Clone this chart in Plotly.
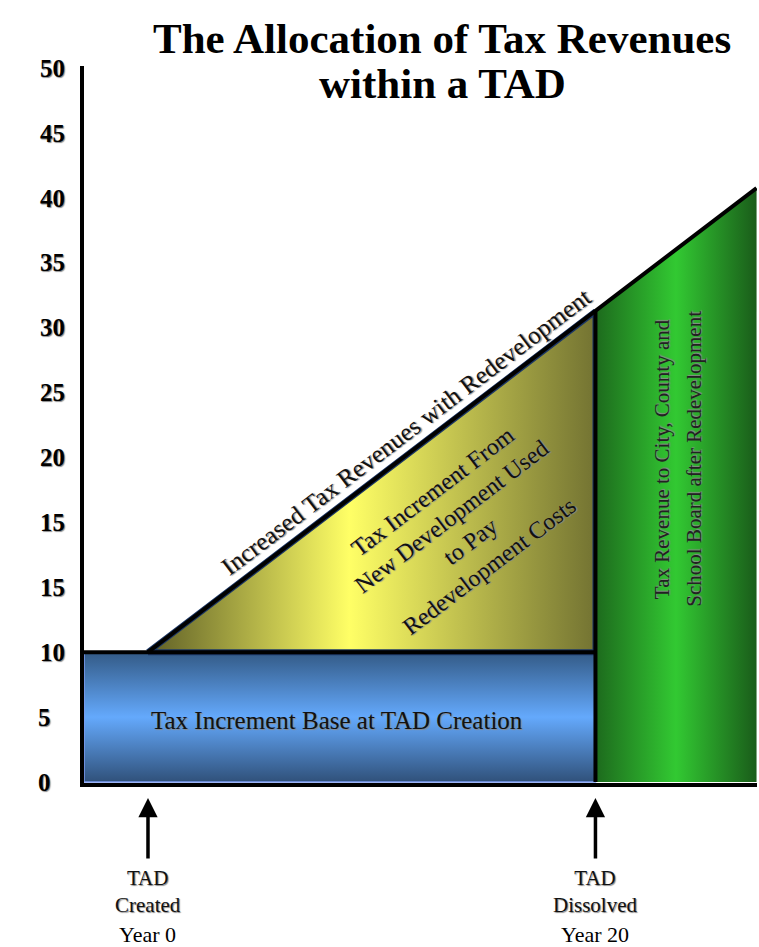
import plotly.graph_objects as go

# ---------------- data ----------------
y_tick_labels = ["0", "5", "10", "15", "15", "20", "25", "30", "35", "40", "45", "50"]
years = [0, 20, 27.2]              # TAD created, TAD dissolved, right edge of chart
revenue_level = [2, 7.25, 9.15]    # tax revenues with redevelopment (value-axis position)
base_level = 2                     # tax increment base at TAD creation
axis_start_year = -2.86
axis_end_year = 27.22
milestone_years = [0, 20]
milestone_names = ["TAD<br>Created", "TAD<br>Dissolved"]
milestone_year_labels = ["Year 0", "Year 20"]

SERIF = "Liberation Serif, Times New Roman, serif"
SHADOW = "1px 1px 1px #8a8a8a"

fig = go.Figure()

# Base (blue box)
fig.add_trace(go.Scatter(
    x=[axis_start_year, years[1], years[1], axis_start_year, axis_start_year],
    y=[0, 0, base_level, base_level, 0],
    mode="lines", fill="toself",
    fillgradient=dict(type="vertical",
                      colorscale=[[0, "#30517a"], [0.5, "#64a9fc"], [1, "#335a86"]]),
    line=dict(color="#7c9cf2", width=1.5),
    hoverinfo="skip", showlegend=False))

# Tax increment triangle (yellow)
fig.add_trace(go.Scatter(
    x=[years[0], years[1], years[1], years[0]],
    y=[base_level, revenue_level[1], base_level, base_level],
    mode="lines", fill="toself",
    fillgradient=dict(type="horizontal",
                      colorscale=[[0, "#5e5e26"], [0.45, "#ffff66"], [1, "#737332"]]),
    line=dict(color="#1c3766", width=6),
    hoverinfo="skip", showlegend=False))

# After dissolution (green)
fig.add_trace(go.Scatter(
    x=[years[1], years[1], years[2], years[2], years[1]],
    y=[0, revenue_level[1], revenue_level[2], 0, 0],
    mode="lines", fill="toself",
    fillgradient=dict(type="horizontal",
                      colorscale=[[0, "#1d6a1d"], [0.5, "#32c932"], [1, "#1a5c1a"]]),
    line=dict(color="rgba(0,0,0,0)", width=0),
    hoverinfo="skip", showlegend=False))

# Black outline lines
fig.add_trace(go.Scatter(
    x=[axis_start_year, years[1], None, years[1], years[1], None] + years,
    y=[base_level, base_level, None, 0, revenue_level[1], None] + revenue_level,
    mode="lines", line=dict(color="black", width=4),
    hoverinfo="skip", showlegend=False))

annotations = []

# Title
annotations.append(dict(text="<b>The Allocation of Tax Revenues</b>", xref="paper", yref="paper",
                        x=0.532, y=1.038, xanchor="center", yanchor="middle", showarrow=False,
                        font=dict(family=SERIF, size=43, color="black")))
annotations.append(dict(text="<b>within a TAD</b>", xref="paper", yref="paper",
                        x=0.532, y=0.975, xanchor="center", yanchor="middle", showarrow=False,
                        font=dict(family=SERIF, size=43, color="black")))

# Region labels
annotations.append(dict(text="Tax Increment Base at TAD Creation", xref="x", yref="y",
                        x=8.45, y=0.95, showarrow=False,
                        font=dict(family=SERIF, size=25, color="#111111", shadow=SHADOW)))
annotations.append(dict(text="Increased Tax Revenues with Redevelopment", xref="x", yref="y",
                        x=11.55, y=5.4, textangle=-37.2, showarrow=False,
                        font=dict(family=SERIF, size=25, color="#111111", shadow=SHADOW)))
annotations.append(dict(text="Tax Increment From<br>New Development Used<br>to Pay<br>Redevelopment Costs",
                        xref="x", yref="y", x=14.0, y=3.9, textangle=-37.2, showarrow=False,
                        align="center",
                        font=dict(family=SERIF, size=24, color="#111111", shadow=SHADOW)))
annotations.append(dict(text="Tax Revenue to City, County and", xref="x", yref="y",
                        x=22.95, y=4.98, textangle=-90, showarrow=False,
                        font=dict(family=SERIF, size=21, color="#222222", shadow=SHADOW)))
annotations.append(dict(text="School Board after Redevelopment", xref="x", yref="y",
                        x=24.4, y=4.98, textangle=-90, showarrow=False,
                        font=dict(family=SERIF, size=21, color="#222222", shadow=SHADOW)))

# Milestone arrows and labels
for yr, name, ylab in zip(milestone_years, milestone_names, milestone_year_labels):
    annotations.append(dict(text="", xref="x", yref="paper", x=yr, y=-0.021,
                            ax=0, ay=62, showarrow=True, arrowhead=2, arrowsize=1.1,
                            arrowwidth=3.5, arrowcolor="black"))
    annotations.append(dict(text=name, xref="x", yref="paper", x=yr, y=-0.151,
                            xanchor="center", yanchor="middle", showarrow=False,
                            font=dict(family=SERIF, size=21, color="#111111", shadow=SHADOW)))
    annotations.append(dict(text=ylab, xref="x", yref="paper", x=yr, y=-0.2106,
                            xanchor="center", yanchor="middle", showarrow=False,
                            font=dict(family=SERIF, size=22, color="black")))

tick_text = [t if len(t) > 1 else t + "\u2002\u200a" for t in y_tick_labels]

fig.update_layout(
    width=759, height=947,
    margin=dict(l=84, r=2, t=66, b=164),
    paper_bgcolor="white", plot_bgcolor="white",
    showlegend=False,
    annotations=annotations,
    xaxis=dict(range=[axis_start_year, axis_end_year], showgrid=False, zeroline=False,
               showticklabels=False, ticks="", showline=True, linewidth=4, linecolor="black",
               fixedrange=True),
    yaxis=dict(range=[-0.015, 11.03], tickmode="array", tickvals=list(range(len(y_tick_labels))),
               ticktext=tick_text, showgrid=False, zeroline=False, ticks="",
               showline=True, linewidth=4, linecolor="black",
               tickfont=dict(family=SERIF, size=25, color="black", weight="bold", shadow=SHADOW),
               ticklabelstandoff=10, fixedrange=True),
)

fig.write_html("out.html")
